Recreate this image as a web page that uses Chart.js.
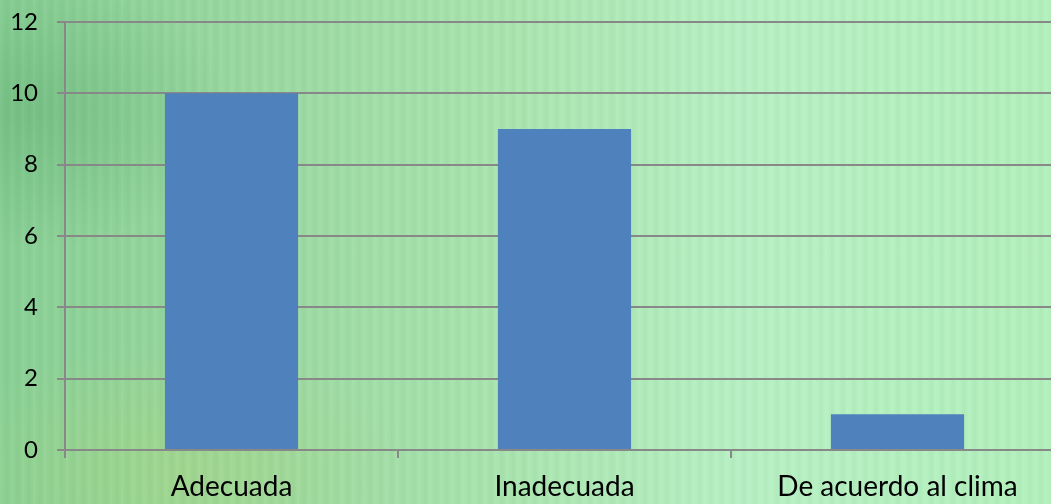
<!DOCTYPE html>
<html>
<head>
<meta charset="utf-8">
<script src="https://cdn.jsdelivr.net/npm/chart.js@4/dist/chart.umd.min.js"></script>
<style>
  html, body { margin: 0; padding: 0; overflow: hidden; }
  body { width: 1051px; height: 504px; }
  /* greenish photo-like backdrop */
  #wrap {
    position: relative;
    width: 1064px;
    height: 504px;
    background:
      repeating-linear-gradient(90deg, rgba(255,255,255,0.05) 0px, rgba(255,255,255,0) 3px, rgba(0,80,20,0.04) 7px, rgba(255,255,255,0) 11px),
      radial-gradient(ellipse 200px 140px at 30px 110px, rgba(80,160,100,0.35), rgba(80,160,100,0)),
      radial-gradient(ellipse 240px 130px at 180px 470px, rgba(175,215,125,0.45), rgba(175,215,125,0)),
      linear-gradient(90deg, #8ad096 0%, #9cd9a3 25%, #ace6b2 50%, #b8f0c4 70%, #b3f0bd 100%);
  }
</style>
</head>
<body>
<div id="wrap"><canvas id="chart"></canvas></div>
<script>
// values
const categories = ['Adecuada', 'Inadecuada', 'De acuerdo al clima'];
const values = [10, 9, 1];
const yTicks = [0, 2, 4, 6, 8, 10, 12];

const ctx = document.getElementById('chart').getContext('2d');
new Chart(ctx, {
    type: 'bar',
    data: {
        labels: categories,
        datasets: [{
            data: values,
            backgroundColor: '#4f81bd',
            categoryPercentage: 1,
            barPercentage: 0.4
        }]
    },
    options: {
        responsive: true,
        maintainAspectRatio: false,
        animation: false,
        layout: { padding: { top: 22, left: 0, right: 0, bottom: 0 } },
        plugins: { legend: { display: false }, tooltip: { enabled: false } },
        scales: {
            y: {
                min: yTicks[0],
                max: yTicks[yTicks.length - 1],
                afterBuildTicks: axis => { axis.ticks = yTicks.map(v => ({ value: v })); },
                afterFit: axis => { axis.width = 65; axis.paddingTop = 0; axis.paddingBottom = 0; },
                border: { color: '#888888', width: 2 },
                grid: { color: '#888888', lineWidth: 2, tickLength: 8 },
                ticks: { color: '#000', padding: 19, font: { family: 'Lato', size: 24 } }
            },
            x: {
                afterFit: axis => { axis.height = 54; },
                border: { color: '#888888', width: 2 },
                grid: { color: '#888888', lineWidth: 2, drawOnChartArea: false, tickLength: 8, offset: true },
                ticks: { color: '#000', padding: 12, font: { family: 'Lato', size: 28 } }
            }
        }
    }
});
</script>
</body>
</html>
